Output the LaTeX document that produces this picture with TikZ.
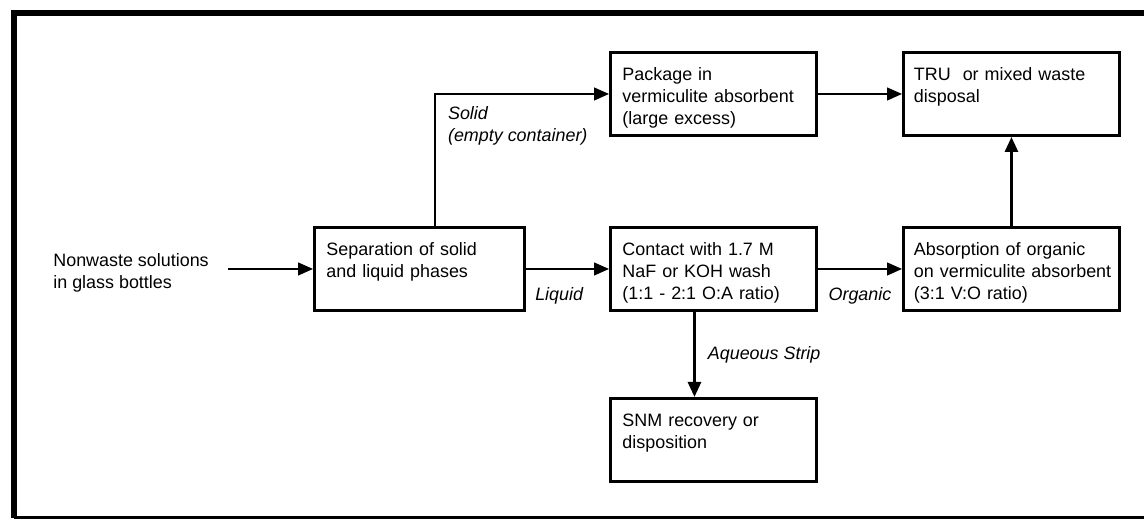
\documentclass[tikz,border=0pt]{standalone}
\usepackage{fontspec}
\setmainfont{Liberation Sans}
\usetikzlibrary{arrows.meta}
\hyphenpenalty=10000

\tikzset{
  procbox/.style={draw, line width=1.7pt, anchor=north west, align=left,
    inner xsep=0.24cm, inner ysep=0pt, text height=0.56cm, text depth=1.1cm,
    font=\fontsize{10.2}{12.6}\selectfont},
  flow/.style={line width=0.7pt, -{Triangle[length=0.3cm,width=0.26cm]}},
  bigflow/.style={flow, line width=1.6pt},
  lbl/.style={font=\fontsize{10.2}{12.4}\selectfont\itshape, align=left, inner sep=0pt}
}

\begin{document}
\begin{tikzpicture}[x=0.02cm, y=-0.02cm]

\useasboundingbox (0,0) rectangle (1144,519);

% ===== Cadre =====
\draw[line width=3.4pt] (1144,13) -- (14,13) -- (14,518);
\draw[line width=1.2pt] (14,517.5) -- (1144,517.5);

% ===== Boites =====
\node[font=\fontsize{10.2}{12.4}\selectfont, align=left, inner sep=0pt, anchor=west]
  (src) at (53,273) {Nonwaste solutions\\in glass bottles};

\node[procbox, text width=3.72cm] (sep) at (313,226) {Separation of solid\\and liquid phases};
\node[procbox, text width=3.64cm] (pack) at (609,51) {Package in\\vermiculite absorbent\\(large excess)};
\node[procbox, text width=3.64cm] (cont) at (609,226) {Contact with 1.7 M\\NaF or KOH wash\\(1:1 - 2:1 O:A ratio)};
\node[procbox, text width=3.64cm] (snm) at (609,397) {SNM recovery or\\disposition};
\node[procbox, text width=3.9cm, inner xsep=0.21cm] (tru) at (902,51) {TRU\ \ or mixed waste\\disposal};
\node[procbox, text width=3.9cm, inner xsep=0.21cm] (absorb) at (902,226) {Absorption of organic\\\mbox{on vermiculite absorbent}\\(3:1 V:O ratio)};

% ===== Fleches =====
\coordinate (solidx) at (435,0);

\draw[flow, shorten <=0.38cm] (src.east |- sep.west) -- (sep.west);

\draw[line width=1.2pt, line cap=rect] (sep.north -| solidx) -- (pack.west -| solidx)
  node[lbl, pos=0.76, anchor=west, xshift=0.24cm] {Solid\\(empty container)};
\draw[flow] (pack.west -| solidx) -- (pack.west);

\draw[flow] (sep.east) -- (cont.west)
  node[lbl, pos=0.4, below=0.36cm] {Liquid};

\draw[flow] (pack.east) -- (tru.west);

\draw[flow] (cont.east) -- (absorb.west)
  node[lbl, midway, below=0.36cm] {Organic};

\draw[bigflow] ([xshift=-0.38cm]cont.south) -- ([xshift=-0.38cm]snm.north)
  node[lbl, midway, right=0.24cm] {Aqueous Strip};

\draw[bigflow] (absorb.north) -- (tru.south);

\end{tikzpicture}
\end{document}
